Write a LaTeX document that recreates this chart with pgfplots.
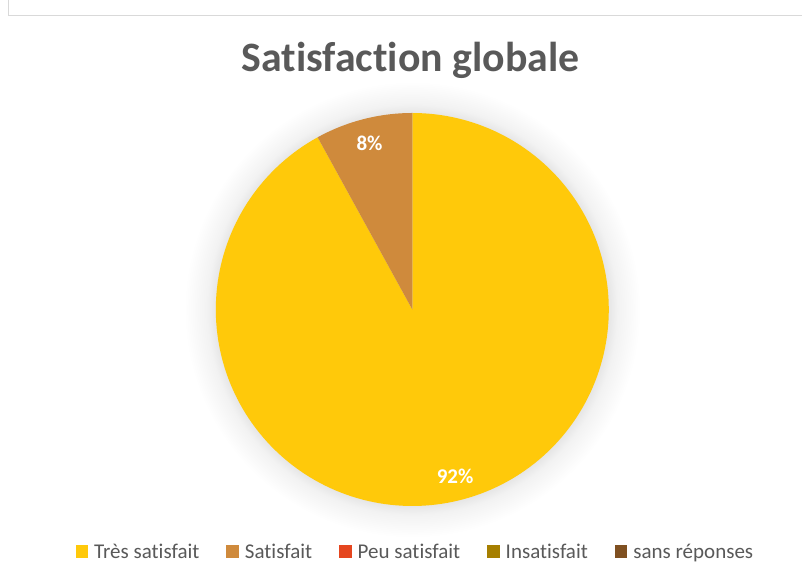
\documentclass[border=0pt]{standalone}
\usepackage{pgfplots}
\pgfplotsset{compat=1.18}
\usepackage{fontspec}
\setmainfont{Carlito}[Ligatures=NoCommon]
\definecolor{cA}{HTML}{FFC90A}
\definecolor{cB}{HTML}{CF8A3C}
\definecolor{cC}{HTML}{E5461F}
\definecolor{cD}{HTML}{A67F00}
\definecolor{cE}{HTML}{7F5021}
\definecolor{txt}{HTML}{595959}
\definecolor{frame}{HTML}{D9D9D9}
\pgfdeclareradialshading{pieshadow}{\pgfpoint{0bp}{0bp}}{color(0bp)=(black!11); color(21.3bp)=(black!11); color(22.5bp)=(black!5); color(25bp)=(white)}
\begin{document}
\begin{tikzpicture}[x=1pt,y=1pt]
\path[use as bounding box] (0,0) rectangle (802,577);
\fill[white] (0,0) rectangle (802,577);
\draw[color=frame, line width=1.5pt] (8.5,577) -- (8.5,561.5) -- (802,561.5);
\shade[shading=pieshadow] (412.3,267.5) circle (228);
\node[anchor=base, text=txt, font=\bfseries\fontsize{41.8}{48}\selectfont] at (410.5,505.3) {Satisfaction globale};
\begin{axis}[
  at={(412.3pt,267.5pt)}, anchor=center,
  width=393pt, height=393pt, scale only axis, hide axis,
  xmin=-1, xmax=1, ymin=-1, ymax=1, clip=false,
  legend columns=5,
  legend image code/.code={\fill[#1] (0pt,-6pt) rectangle (12.5pt,6.5pt);},
  legend style={at={(0.508,-0.116)}, anchor=center, draw=none, fill=none,
    font=\fontsize{21}{24}\selectfont, text=txt,
    /tikz/every even column/.append style={column sep=25pt},
    /tikz/every odd column/.append style={column sep=4pt}},
]
\addplot[fill=cA, draw=none, domain={90-3.6*92}:90, samples=200] ({cos(x)},{sin(x)}) -- (0,0) -- cycle;
\addlegendentry{Très satisfait}
\addplot[fill=cB, draw=none, domain=90:{90+3.6*8}, samples=30] ({cos(x)},{sin(x)}) -- (0,0) -- cycle;
\addlegendentry{Satisfait}
\addlegendimage{fill=cC, draw=none}
\addlegendentry{Peu satisfait}
\addlegendimage{fill=cD, draw=none}
\addlegendentry{Insatisfait}
\addlegendimage{fill=cE, draw=none}
\addlegendentry{sans réponses}
\node[text=white, font=\bfseries\fontsize{21}{25}\selectfont] at (axis cs:{0.875*cos(90+1.8*8)},{0.875*sin(90+1.8*8)}) {8\%};
\node[text=white, font=\bfseries\fontsize{21}{25}\selectfont] at (axis cs:{0.875*cos(90-1.8*92)},{0.875*sin(90-1.8*92)}) {92\%};
\end{axis}
\end{tikzpicture}
\end{document}
